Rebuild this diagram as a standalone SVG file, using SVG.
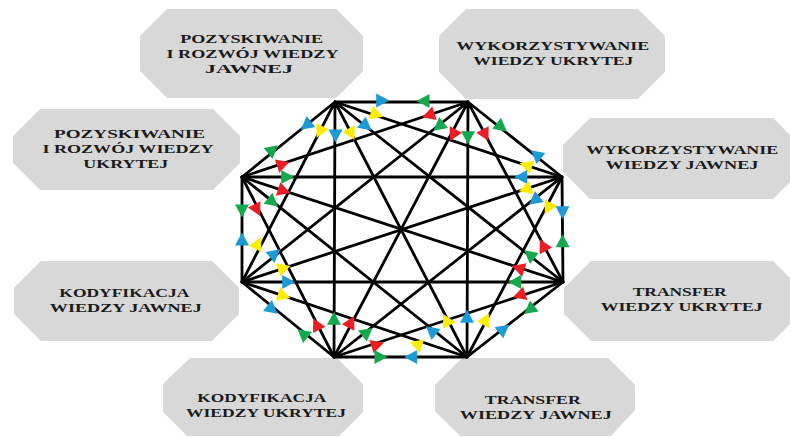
<svg xmlns="http://www.w3.org/2000/svg" width="790" height="437" viewBox="0 0 790 437">
<style>
.box{fill:#d8d8d8;stroke:none}
.lbl{font-family:"Liberation Serif","Times New Roman",serif;font-weight:bold;font-size:13.5px;fill:#1a1a1a;text-anchor:middle}
.ln{stroke:#000;stroke-width:2.8;fill:none;stroke-linecap:round;stroke-linejoin:round}
.b{fill:#1b9ad6}.g{fill:#15a94e}.r{fill:#ec1d25}.y{fill:#ffec00}
</style>
<defs>
<path id="t" d="M7.5,0 L-5.5,-7 L-5.5,7 Z"/>
</defs>
<rect width="790" height="437" fill="#fff"/>
<g id="n1"><polygon class="box" points="167,9 336,9 363,36 363,71 336,98 167,98 140,71 140,36"/>
<text class="lbl"><tspan x="251.7" y="43.3" textLength="143" lengthAdjust="spacingAndGlyphs">POZYSKIWANIE</tspan><tspan x="252.5" y="58.3" textLength="172" lengthAdjust="spacingAndGlyphs">I ROZWÓJ WIEDZY</tspan><tspan x="249" y="73.3" textLength="88" lengthAdjust="spacingAndGlyphs">JAWNEJ</tspan></text></g>
<g id="n2"><polygon class="box" points="466,9 638,9 665,36 665,72 638,99 466,99 439,72 439,36"/>
<text class="lbl"><tspan x="552.7" y="49.9" textLength="193" lengthAdjust="spacingAndGlyphs">WYKORZYSTYWANIE</tspan><tspan x="553.3" y="64.9" textLength="160" lengthAdjust="spacingAndGlyphs">WIEDZY UKRYTEJ</tspan></text></g>
<g id="n3"><polygon class="box" points="40,109 213,109 240,136 240,163 213,190 40,190 13,163 13,136"/>
<text class="lbl"><tspan x="129.5" y="138.3" textLength="151" lengthAdjust="spacingAndGlyphs">POZYSKIWANIE</tspan><tspan x="128" y="153.3" textLength="171" lengthAdjust="spacingAndGlyphs">I ROZWÓJ WIEDZY</tspan><tspan x="125.8" y="168.3" textLength="85" lengthAdjust="spacingAndGlyphs">UKRYTEJ</tspan></text></g>
<g id="n4"><polygon class="box" points="41,261 212,261 239,288 239,314 212,341 41,341 14,314 14,288"/>
<text class="lbl"><tspan x="124.3" y="297" textLength="130" lengthAdjust="spacingAndGlyphs">KODYFIKACJA</tspan><tspan x="125.8" y="312" textLength="152" lengthAdjust="spacingAndGlyphs">WIEDZY JAWNEJ</tspan></text></g>
<g id="n5"><polygon class="box" points="590,118 773,118 800,145 800,172 773,199 590,199 563,172 563,145"/>
<text class="lbl"><tspan x="682.2" y="154.2" textLength="192" lengthAdjust="spacingAndGlyphs">WYKORZYSTYWANIE</tspan><tspan x="682" y="169.2" textLength="153" lengthAdjust="spacingAndGlyphs">WIEDZY JAWNEJ</tspan></text></g>
<g id="n6"><polygon class="box" points="591,261 773,261 800,288 800,314 773,341 591,341 564,314 564,288"/>
<text class="lbl"><tspan x="679.7" y="295.9" textLength="94" lengthAdjust="spacingAndGlyphs">TRANSFER</tspan><tspan x="681.7" y="310.9" textLength="162" lengthAdjust="spacingAndGlyphs">WIEDZY UKRYTEJ</tspan></text></g>
<g id="n7"><polygon class="box" points="190,358 337,358 363,384 363,412 339,436 187,436 163,412 163,384"/>
<text class="lbl"><tspan x="261.7" y="402.2" textLength="129" lengthAdjust="spacingAndGlyphs">KODYFIKACJA</tspan><tspan x="266" y="417.2" textLength="160" lengthAdjust="spacingAndGlyphs">WIEDZY UKRYTEJ</tspan></text></g>
<g id="n8"><polygon class="box" points="462,358 608,358 635,385 635,410 611,436 460,436 435,411 435,385"/>
<text class="lbl"><tspan x="532.8" y="404.2" textLength="96" lengthAdjust="spacingAndGlyphs">TRANSFER</tspan><tspan x="535.8" y="419.2" textLength="152" lengthAdjust="spacingAndGlyphs">WIEDZY JAWNEJ</tspan></text></g>
<g id="connectors">
<g id="lines" class="ln">
<path d="M335,102 L468,102 L562,177 L563,282 L467,357 L334,357 L242,282 L242,177 Z"/>
<path d="M335,102 L562,177 M335,102 L563,282 M335,102 L467,357 M335,102 L334,357 M335,102 L242,282"/>
<path d="M468,102 L563,282 M468,102 L467,357 M468,102 L334,357 M468,102 L242,282 M468,102 L242,177"/>
<path d="M562,177 L467,357 M562,177 L334,357 M562,177 L242,282 M562,177 L242,177"/>
<path d="M563,282 L334,357 M563,282 L242,282 M563,282 L242,177"/>
<path d="M467,357 L242,282 M467,357 L242,177"/>
<path d="M334,357 L242,177"/>
</g>
<g id="arrows">
<use href="#t" class="b" transform="translate(381.7,100.5) rotate(0)"/>
<use href="#t" class="y" transform="translate(376,114.3) rotate(18.3)"/>
<use href="#t" class="b" transform="translate(365.7,125.7) rotate(38.3)"/>
<use href="#t" class="y" transform="translate(351,133.3) rotate(62.6)"/>
<use href="#t" class="b" transform="translate(335.5,135) rotate(90.2)"/>
<use href="#t" class="y" transform="translate(320,131) rotate(117.3)"/>
<use href="#t" class="b" transform="translate(306.7,125) rotate(141.1)"/>

<use href="#t" class="g" transform="translate(424,101) rotate(180)"/>
<use href="#t" class="r" transform="translate(429.3,115) rotate(161.6)"/>
<use href="#t" class="g" transform="translate(439.3,126) rotate(141.5)"/>
<use href="#t" class="r" transform="translate(453.3,134.3) rotate(117.7)"/>
<use href="#t" class="g" transform="translate(468,136.7) rotate(90.2)"/>
<use href="#t" class="r" transform="translate(485,134.3) rotate(62.2)"/>
<use href="#t" class="g" transform="translate(501,126.7) rotate(38.6)"/>

<use href="#t" class="b" transform="translate(536.7,155) rotate(218.6)"/>
<use href="#t" class="y" transform="translate(526.7,165.7) rotate(198.3)"/>
<use href="#t" class="b" transform="translate(521.7,177) rotate(180)"/>
<use href="#t" class="y" transform="translate(526,189) rotate(161.8)"/>
<use href="#t" class="b" transform="translate(535,200) rotate(141.7)"/>
<use href="#t" class="y" transform="translate(548.3,207.7) rotate(117.8)"/>
<use href="#t" class="b" transform="translate(562.5,211.7) rotate(89.5)"/>

<use href="#t" class="g" transform="translate(562.6,241.7) rotate(269.5)"/>
<use href="#t" class="r" transform="translate(543.3,246) rotate(242.2)"/>
<use href="#t" class="g" transform="translate(530,255) rotate(218.3)"/>
<use href="#t" class="r" transform="translate(519,268.3) rotate(198.1)"/>
<use href="#t" class="g" transform="translate(515.7,282) rotate(180)"/>
<use href="#t" class="r" transform="translate(520,295) rotate(161.9)"/>
<use href="#t" class="g" transform="translate(530,309.3) rotate(142)"/>

<use href="#t" class="b" transform="translate(411.7,357) rotate(180)"/>
<use href="#t" class="y" transform="translate(416.7,344.3) rotate(198.4)"/>
<use href="#t" class="b" transform="translate(431.7,331) rotate(218.7)"/>
<use href="#t" class="y" transform="translate(446.7,320.7) rotate(242.6)"/>
<use href="#t" class="b" transform="translate(467,317.3) rotate(270.2)"/>
<use href="#t" class="y" transform="translate(485.7,320) rotate(297.8)"/>
<use href="#t" class="b" transform="translate(503.3,329.3) rotate(322)"/>

<use href="#t" class="g" transform="translate(303.3,334) rotate(219.2)"/>
<use href="#t" class="r" transform="translate(316.7,325) rotate(242.9)"/>
<use href="#t" class="g" transform="translate(334,319.3) rotate(270.2)"/>
<use href="#t" class="r" transform="translate(350.7,322.7) rotate(297.7)"/>
<use href="#t" class="g" transform="translate(366.7,332.7) rotate(321.7)"/>
<use href="#t" class="r" transform="translate(376.7,345) rotate(341.9)"/>
<use href="#t" class="g" transform="translate(380,357) rotate(0)"/>

<use href="#t" class="b" transform="translate(242,240) rotate(270)"/>
<use href="#t" class="y" transform="translate(257.7,244) rotate(297.3)"/>
<use href="#t" class="b" transform="translate(274.3,254) rotate(321.5)"/>
<use href="#t" class="y" transform="translate(283.3,268.3) rotate(341.8)"/>
<use href="#t" class="b" transform="translate(287.7,282) rotate(0)"/>
<use href="#t" class="y" transform="translate(283.3,295.7) rotate(18.4)"/>
<use href="#t" class="b" transform="translate(271.7,309) rotate(39.2)"/>

<use href="#t" class="g" transform="translate(272.3,150) rotate(321.1)"/>
<use href="#t" class="r" transform="translate(282.3,164.3) rotate(341.6)"/>
<use href="#t" class="g" transform="translate(286.7,177) rotate(0)"/>
<use href="#t" class="r" transform="translate(283.3,190.7) rotate(18.1)"/>
<use href="#t" class="g" transform="translate(272.3,201.7) rotate(38.7)"/>
<use href="#t" class="r" transform="translate(256.7,209.3) rotate(62.9)"/>
<use href="#t" class="g" transform="translate(242,210) rotate(90)"/>
</g>
</g>
</svg>
